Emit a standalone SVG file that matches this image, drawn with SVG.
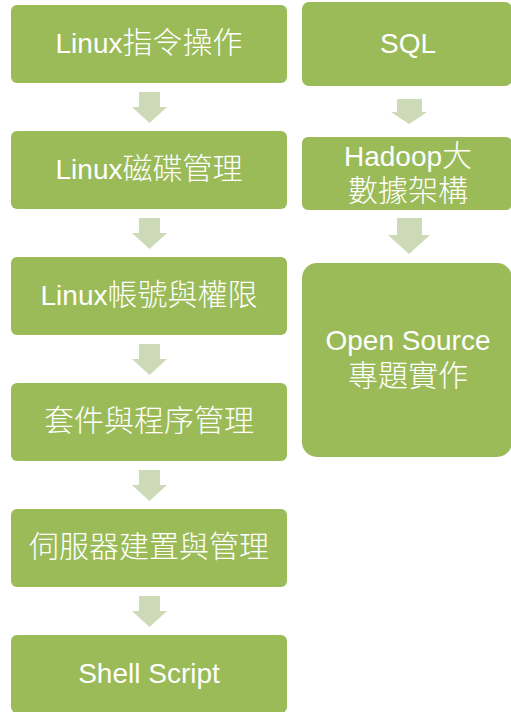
<svg xmlns="http://www.w3.org/2000/svg" width="511" height="712" viewBox="0 0 511 712">
<defs>
<style>
.box{fill:#9BBB59;}
.arr{fill:#CDDAB8;}
text{fill:#FFFFFF;font-family:"Liberation Sans","Noto Sans CJK TC",sans-serif;font-size:28px;text-anchor:middle;}
.cjk{font-family:"Noto Sans CJK TC",sans-serif;font-size:30px;font-weight:300;}
</style>
</defs>
<rect width="511" height="712" fill="#FFFFFF"/>
<g id="connectors">
<polygon class="arr" points="139,92 160,92 160,107 167,107 149.5,123 132,107 139,107"/>
<polygon class="arr" points="139,218 160,218 160,233 167,233 149.5,249 132,233 139,233"/>
<polygon class="arr" points="139,344 160,344 160,359 167,359 149.5,375 132,359 139,359"/>
<polygon class="arr" points="139,470 160,470 160,485 167,485 149.5,501 132,485 139,485"/>
<polygon class="arr" points="139,596 160,596 160,611 167,611 149.5,627 132,611 139,611"/>
<polygon class="arr" points="397,99 422,99 422,112 427,112 409,124 391,112 397,112"/>
<polygon class="arr" points="397,218 422,218 422,235 430,235 409,254 388,235 397,235"/>
</g>
<g id="n1"><rect class="box" x="11" y="5" width="276" height="78" rx="6"/><text x="149" y="53">Linux<tspan class="cjk">指令操作</tspan></text></g>
<g id="n2"><rect class="box" x="11" y="131" width="276" height="78" rx="6"/><text x="149" y="179">Linux<tspan class="cjk">磁碟管理</tspan></text></g>
<g id="n3"><rect class="box" x="11" y="257" width="276" height="78" rx="6"/><text x="149" y="305">Linux<tspan class="cjk">帳號與權限</tspan></text></g>
<g id="n4"><rect class="box" x="11" y="383" width="276" height="78" rx="6"/><text x="149" y="431" class="cjk">套件與程序管理</text></g>
<g id="n5"><rect class="box" x="11" y="509" width="276" height="78" rx="6"/><text x="149" y="557" class="cjk">伺服器建置與管理</text></g>
<g id="n6"><rect class="box" x="11" y="635" width="276" height="78" rx="6"/><text x="149" y="683">Shell Script</text></g>
<g id="n7"><rect class="box" x="302" y="2" width="210" height="84" rx="7"/><text x="408" y="53">SQL</text></g>
<g id="n8"><rect class="box" x="302" y="137" width="210" height="73" rx="6"/><text x="408" y="166">Hadoop<tspan class="cjk">大</tspan></text><text x="408" y="201" class="cjk">數據架構</text></g>
<g id="n9"><rect class="box" x="302" y="263" width="210" height="194" rx="15"/><text x="408" y="350">Open Source</text><text x="408" y="386" class="cjk">專題實作</text></g>
</svg>
